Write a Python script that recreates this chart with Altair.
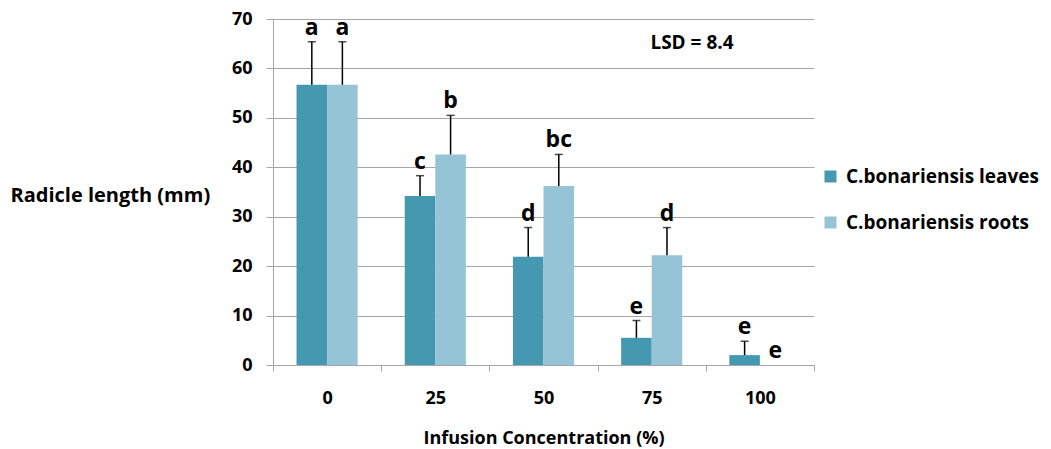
import altair as alt
import pandas as pd

concentrations = ["0", "25", "50", "75", "100"]
series = ["C.bonariensis leaves", "C.bonariensis roots"]
leaves = [56.7, 34.2, 21.9, 5.5, 2.0]
leaves_err = [8.7, 4.1, 5.9, 3.5, 2.8]
roots = [56.7, 42.6, 36.2, 22.2, 0.0]
roots_err = [8.7, 7.9, 6.4, 5.6, 0.0]
leaves_letters = ["a", "c", "d", "e", "e"]
roots_letters = ["a", "b", "bc", "d", "e"]
lsd_text = ["LSD = 8.4"]

rows = []
for name, vals, errs, lets in [
    (series[0], leaves, leaves_err, leaves_letters),
    (series[1], roots, roots_err, roots_letters),
]:
    for c, v, e, l in zip(concentrations, vals, errs, lets):
        rows.append({"conc": c, "series": name, "value": v, "err": e,
                     "upper": v + e, "letter": l})
df = pd.DataFrame(rows)

FONT = "Open Sans"
GRID = "#A6A6A6"

x_enc = alt.X("conc:N", sort=concentrations,
              scale=alt.Scale(paddingInner=0, paddingOuter=0),
              axis=alt.Axis(title="Infusion Concentration (%)", labelAngle=0,
                            tickBand="extent", tickSize=6, tickColor=GRID,
                            domainColor=GRID, labelPadding=18,
                            labelFont=FONT, labelFontSize=18, labelFontWeight="bold",
                            labelColor="black", titleFont=FONT, titleFontSize=18,
                            titleFontWeight="bold", titleColor="black", titlePadding=22))
xo_enc = alt.XOffset("series:N", sort=series,
                     scale=alt.Scale(paddingInner=0, paddingOuter=0.77))
y_scale = alt.Scale(domain=[0, 70])

base = alt.Chart(df).encode(x=x_enc, xOffset=xo_enc)

bars = base.mark_bar().encode(
    y=alt.Y("value:Q", scale=y_scale,
            axis=alt.Axis(values=list(range(0, 71, 10)), grid=True, gridColor=GRID,
                          domainColor=GRID, tickColor=GRID, tickSize=7, labelPadding=14,
                          labelFont=FONT, labelFontSize=18, labelFontWeight="bold",
                          labelColor="black", title="Radicle length (mm)", titleAngle=0,
                          titleAlign="left", titleBaseline="middle", titleX=-263, titleY=176,
                          titleFont=FONT, titleFontSize=20, titleFontWeight="bold",
                          titleColor="black")),
    color=alt.Color("series:N", sort=series,
                    scale=alt.Scale(domain=series, range=["#4499B0", "#94C4D6"]),
                    legend=alt.Legend(title=None, orient="none", legendX=548, legendY=148,
                                      symbolType="square", symbolSize=144,
                                      symbolStrokeWidth=0, labelFont=FONT,
                                      labelFontSize=19, labelFontWeight="bold",
                                      labelColor="black", rowPadding=26, labelOffset=6,
                                      labelLimit=0)),
)

rule = base.transform_filter("datum.err > 0").mark_rule(color="black", strokeWidth=1.5).encode(
    y=alt.Y("value:Q", scale=y_scale), y2="upper:Q")
cap = base.transform_filter("datum.err > 0").mark_tick(color="black", thickness=1.5, size=8).encode(
    y=alt.Y("upper:Q", scale=y_scale))
letters = base.mark_text(dy=-7, baseline="alphabetic", font=FONT, fontSize=23,
                         fontWeight="bold", color="black").encode(
    y=alt.Y("upper:Q", scale=y_scale), text="letter:N")

lsd = alt.Chart(pd.DataFrame({"t": lsd_text})).mark_text(
    font=FONT, fontSize=19, fontWeight="bold", color="black", baseline="middle"
).encode(x=alt.value(419), y=alt.value(24), text="t:N")

chart = alt.layer(bars, rule, cap, letters, lsd).properties(
    width=541, height=346,
    autosize=alt.AutoSizeParams(type="none"),
    padding={"left": 273, "top": 19, "right": 237, "bottom": 84},
).configure_view(stroke=None)

chart.save("out.html", embed_options={"renderer": "svg", "actions": False})
